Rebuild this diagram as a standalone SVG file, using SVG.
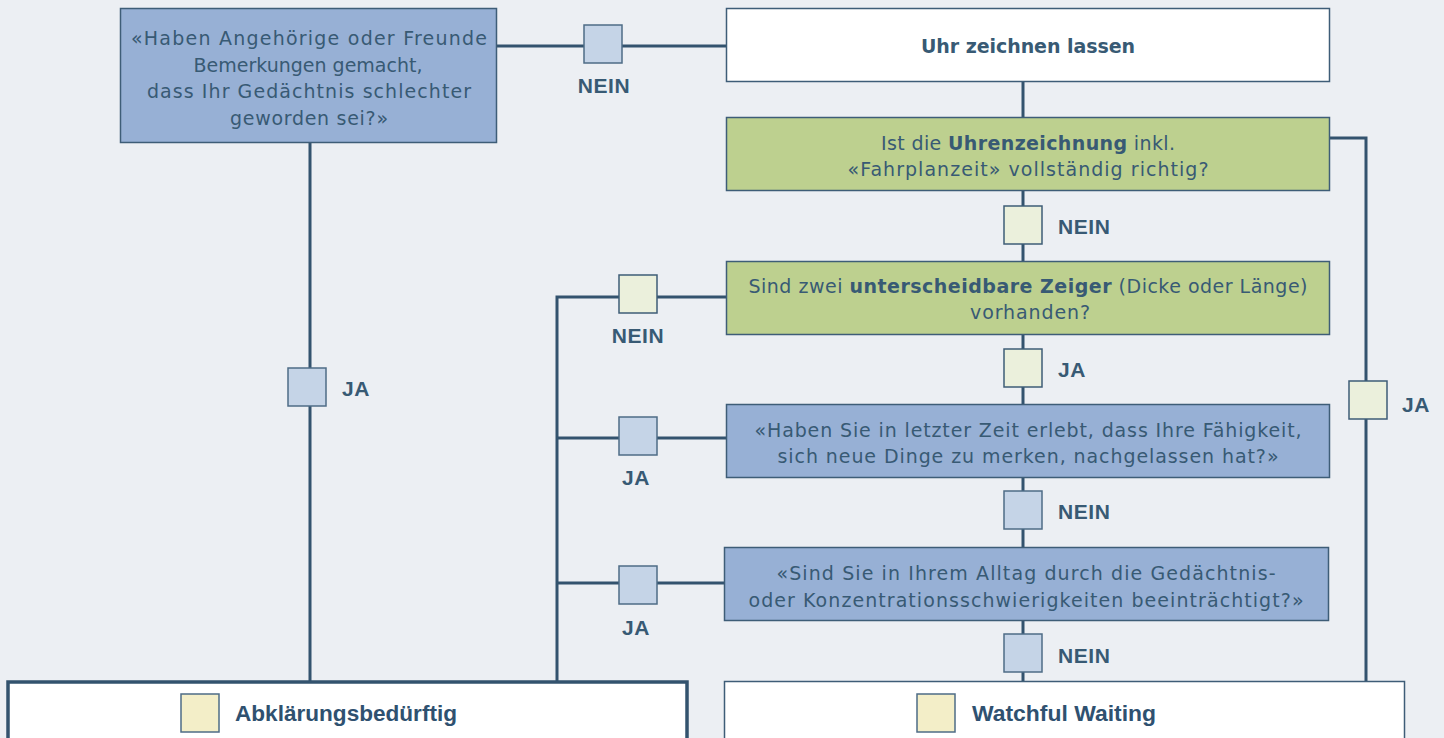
<svg xmlns="http://www.w3.org/2000/svg" width="1444" height="738" viewBox="0 0 1444 738">
<style>
.bg{fill:#eceff3}
.box{stroke:#3e5d77;stroke-width:1.5}
.blue{fill:#97b0d5}
.green{fill:#bdd08f}
.white{fill:#ffffff}
.sqb{fill:#c5d4e7;stroke:#4e6c86;stroke-width:1.5}
.sqg{fill:#ebf0dc;stroke:#3e5d77;stroke-width:1.5}
.sqy{fill:#f3eec8;stroke:#4e6c86;stroke-width:1.5}
.t{font-family:"DejaVu Sans","Liberation Sans",sans-serif;font-size:19px;fill:#385a74;text-anchor:middle}
.b{font-weight:bold}
.lbl{font-family:"Liberation Sans",Arial,sans-serif;font-size:21px;font-weight:bold;fill:#385a74;letter-spacing:0.6px}
.res{font-family:"Liberation Sans",Arial,sans-serif;font-size:22px;font-weight:bold;fill:#2f5170}
.ln{fill:none;stroke:#33536e;stroke-width:3}
</style>
<rect class="bg" x="0" y="0" width="1444" height="738"/>
<g id="connectors">
<path class="ln" d="M310 143 V681"/>
<path class="ln" d="M497 46 H726"/>
<path class="ln" d="M1023 82 V117"/>
<path class="ln" d="M1023 191 V261"/>
<path class="ln" d="M1023 335 V404"/>
<path class="ln" d="M1023 478 V547"/>
<path class="ln" d="M1023 621 V681"/>
<path class="ln" d="M1330 138 H1366 V681"/>
<path class="ln" d="M726 297 H557 V681"/>
<path class="ln" d="M557 438 H726"/>
<path class="ln" d="M557 583 H724"/>
<rect class="sqb" x="288" y="368" width="38" height="38"/>
<text class="lbl" x="342" y="396">JA</text>
<rect class="sqb" x="584" y="25" width="38" height="38"/>
<text class="lbl" x="604" y="93" text-anchor="middle">NEIN</text>
<rect class="sqg" x="1004" y="206" width="38" height="38"/>
<text class="lbl" x="1058" y="234">NEIN</text>
<rect class="sqg" x="1349" y="381" width="38" height="38"/>
<text class="lbl" x="1402" y="412">JA</text>
<rect class="sqg" x="619" y="275" width="38" height="38"/>
<text class="lbl" x="638" y="343" text-anchor="middle">NEIN</text>
<rect class="sqg" x="1004" y="349" width="38" height="38"/>
<text class="lbl" x="1058" y="377">JA</text>
<rect class="sqb" x="619" y="417" width="38" height="38"/>
<text class="lbl" x="636" y="485" text-anchor="middle">JA</text>
<rect class="sqb" x="1004" y="491" width="38" height="38"/>
<text class="lbl" x="1058" y="519">NEIN</text>
<rect class="sqb" x="619" y="566" width="38" height="38"/>
<text class="lbl" x="636" y="635" text-anchor="middle">JA</text>
<rect class="sqb" x="1004" y="634" width="38" height="38"/>
<text class="lbl" x="1058" y="663">NEIN</text>
</g>
<g id="q-angehoerige">
<rect class="box blue" x="120.5" y="8.5" width="376" height="134"/>
<text class="t" x="309" y="45" textLength="356">«Haben Angehörige oder Freunde</text>
<text class="t" x="308" y="72">Bemerkungen gemacht,</text>
<text class="t" x="309" y="98" textLength="324">dass Ihr Gedächtnis schlechter</text>
<text class="t" x="309" y="125" textLength="158">geworden sei?»</text>
</g>
<g id="uhr-zeichnen">
<rect class="box white" x="726.5" y="8.5" width="603" height="73"/>
<text class="t b" x="1028" y="53" textLength="214">Uhr zeichnen lassen</text>
</g>
<g id="q-uhrenzeichnung">
<rect class="box green" x="726.5" y="117.5" width="603" height="73"/>
<text class="t" x="1028" y="150" textLength="294">Ist die <tspan class="b">Uhrenzeichnung</tspan> inkl.</text>
<text class="t" x="1028" y="176" textLength="361">«Fahrplanzeit» vollständig richtig?</text>
</g>
<g id="q-zeiger">
<rect class="box green" x="726.5" y="261.5" width="603" height="73"/>
<text class="t" x="1028" y="293" textLength="559">Sind zwei <tspan class="b">unterscheidbare Zeiger</tspan> (Dicke oder Länge)</text>
<text class="t" x="1030" y="319" textLength="120">vorhanden?</text>
</g>
<g id="q-faehigkeit">
<rect class="box blue" x="726.5" y="404.5" width="603" height="73"/>
<text class="t" x="1028" y="437" textLength="547">«Haben Sie in letzter Zeit erlebt, dass Ihre Fähigkeit,</text>
<text class="t" x="1028" y="463" textLength="501">sich neue Dinge zu merken, nachgelassen hat?»</text>
</g>
<g id="q-alltag">
<rect class="box blue" x="724.5" y="547.5" width="604" height="73"/>
<text class="t" x="1026" y="580" textLength="499">«Sind Sie in Ihrem Alltag durch die Gedächtnis-</text>
<text class="t" x="1026" y="607" textLength="555">oder Konzentrationsschwierigkeiten beeinträchtigt?»</text>
</g>
<g id="abklaerung">
<rect x="8" y="682" width="679" height="70" fill="#ffffff" stroke="#33536e" stroke-width="3.5"/>
<rect class="sqy" x="181" y="694" width="38" height="38"/>
<text class="res" x="235" y="721" textLength="222" lengthAdjust="spacingAndGlyphs">Abklärungsbedürftig</text>
</g>
<g id="watchful">
<rect class="box white" x="724.5" y="681.5" width="680" height="70"/>
<rect class="sqy" x="917" y="694" width="38" height="38"/>
<text class="res" x="972" y="721" textLength="184" lengthAdjust="spacingAndGlyphs">Watchful Waiting</text>
</g>
</svg>
